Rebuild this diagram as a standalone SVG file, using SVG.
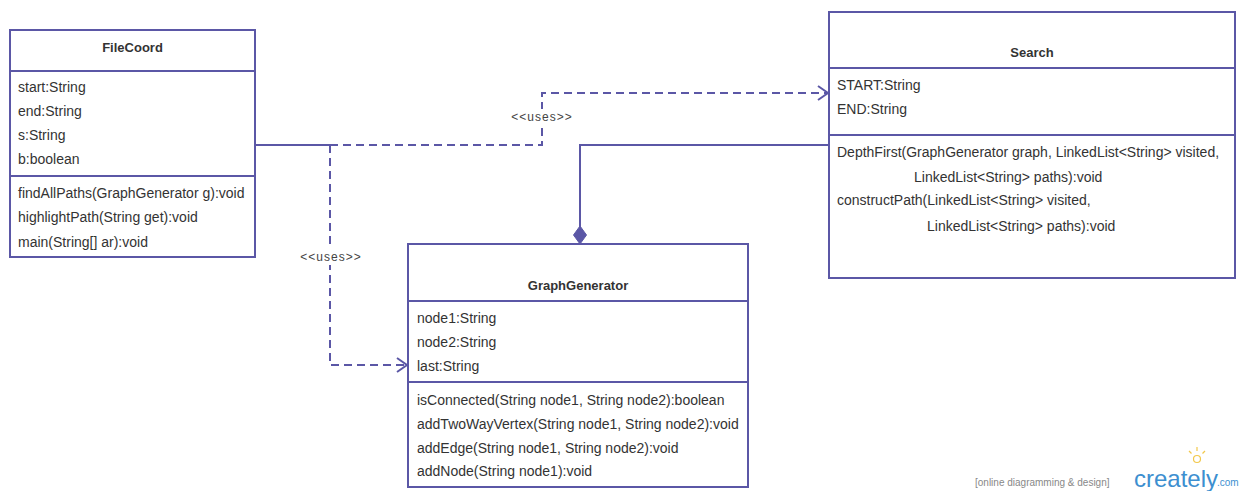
<svg xmlns="http://www.w3.org/2000/svg" width="1250" height="491" viewBox="0 0 1250 491">
  <style>
    .box { fill: #ffffff; stroke: #5b57a6; stroke-width: 2; }
    .sep { stroke: #5b57a6; stroke-width: 2; fill: none; }
    .title { font-family: "Liberation Sans", Arial, sans-serif; font-size: 13px; font-weight: bold; fill: #333333; text-anchor: middle; }
    .t { font-family: "Liberation Sans", Arial, sans-serif; font-size: 14px; fill: #333333; }
    .lbl { font-family: "Liberation Sans", Arial, sans-serif; font-size: 12px; fill: #444444; text-anchor: middle; letter-spacing: 1px; }
    .solid { stroke: #5b57a6; stroke-width: 2; fill: none; }
    .dash { stroke: #5b57a6; stroke-width: 2; fill: none; stroke-dasharray: 8 5; }
  </style>
  <defs>
    <marker id="open" markerWidth="14" markerHeight="16" refX="12" refY="8" orient="auto" markerUnits="userSpaceOnUse">
      <path d="M2,1 L12,8 L2,15" fill="none" stroke="#5b57a6" stroke-width="2"/>
    </marker>
  </defs>

  <rect width="1250" height="491" fill="#ffffff"/>

  <!-- connectors -->
  <g id="connectors">
    <!-- FileCoord uses Search -->
    <path class="solid" d="M255,145 H330"/>
    <path class="dash" d="M330,145 H542 V93 H828" marker-end="url(#open)"/>
    <rect x="503" y="109" width="78" height="16" fill="#ffffff"/>
    <text class="lbl" x="542" y="121">&lt;&lt;uses&gt;&gt;</text>
    <!-- FileCoord uses GraphGenerator -->
    <path class="dash" d="M330,145 V365 H407" marker-end="url(#open)"/>
    <rect x="291" y="249" width="78" height="16" fill="#ffffff"/>
    <text class="lbl" x="331" y="261">&lt;&lt;uses&gt;&gt;</text>
    <!-- Search composed of GraphGenerator -->
    <path class="solid" d="M829,145 H580 V230"/>
    <path d="M580,226 L586.5,235 L580,244 L573.5,235 Z" fill="#5b57a6" stroke="#5b57a6" stroke-width="1"/>
  </g>

  <!-- FileCoord -->
  <g id="FileCoord">
    <rect class="box" x="10" y="30" width="245" height="227"/>
    <line class="sep" x1="10" y1="71" x2="255" y2="71"/>
    <line class="sep" x1="10" y1="176" x2="255" y2="176"/>
    <text class="title" x="132.5" y="52">FileCoord</text>
    <text class="t" x="18" y="92">start:String</text>
    <text class="t" x="18" y="116">end:String</text>
    <text class="t" x="18" y="140">s:String</text>
    <text class="t" x="18" y="164">b:boolean</text>
    <text class="t" x="18" y="198">findAllPaths(GraphGenerator g):void</text>
    <text class="t" x="18" y="222">highlightPath(String get):void</text>
    <text class="t" x="18" y="247">main(String[] ar):void</text>
  </g>

  <!-- Search -->
  <g id="Search">
    <rect class="box" x="829" y="12" width="406" height="266"/>
    <line class="sep" x1="829" y1="68" x2="1235" y2="68"/>
    <line class="sep" x1="829" y1="135" x2="1235" y2="135"/>
    <text class="title" x="1032" y="57">Search</text>
    <text class="t" x="837" y="90">START:String</text>
    <text class="t" x="837" y="114">END:String</text>
    <text class="t" x="837" y="157">DepthFirst(GraphGenerator graph, LinkedList&lt;String&gt; visited,</text>
    <text class="t" x="914" y="182">LinkedList&lt;String&gt; paths):void</text>
    <text class="t" x="837" y="205">constructPath(LinkedList&lt;String&gt; visited,</text>
    <text class="t" x="927" y="231">LinkedList&lt;String&gt; paths):void</text>
  </g>

  <!-- GraphGenerator -->
  <g id="GraphGenerator">
    <rect class="box" x="408" y="244" width="340" height="243"/>
    <line class="sep" x1="408" y1="301" x2="748" y2="301"/>
    <line class="sep" x1="408" y1="382" x2="748" y2="382"/>
    <text class="title" x="578" y="290">GraphGenerator</text>
    <text class="t" x="417" y="323">node1:String</text>
    <text class="t" x="417" y="347">node2:String</text>
    <text class="t" x="417" y="371">last:String</text>
    <text class="t" x="417" y="405">isConnected(String node1, String node2):boolean</text>
    <text class="t" x="417" y="429">addTwoWayVertex(String node1, String node2):void</text>
    <text class="t" x="417" y="453">addEdge(String node1, String node2):void</text>
    <text class="t" x="417" y="476">addNode(String node1):void</text>
  </g>

  <!-- watermark -->
  <g id="watermark">
    <text x="975" y="486" font-family="'Liberation Sans', Arial, sans-serif" font-size="10" fill="#888888">[online diagramming &amp; design]</text>
    <text x="1134" y="487" font-family="'Liberation Sans', Arial, sans-serif" font-size="24" fill="#3d8fd0">creately</text>
    <text x="1217" y="486" font-family="'Liberation Sans', Arial, sans-serif" font-size="10" fill="#3d8fd0">.com</text>
    <g stroke="#f2c84b" stroke-width="1.2" fill="none">
      <line x1="1197" y1="447" x2="1197" y2="451"/>
      <line x1="1189" y1="451" x2="1191.5" y2="453.5"/>
      <line x1="1205" y1="451" x2="1202.5" y2="453.5"/>
      <circle cx="1197" cy="459" r="3.5"/>
    </g>
  </g>
</svg>
